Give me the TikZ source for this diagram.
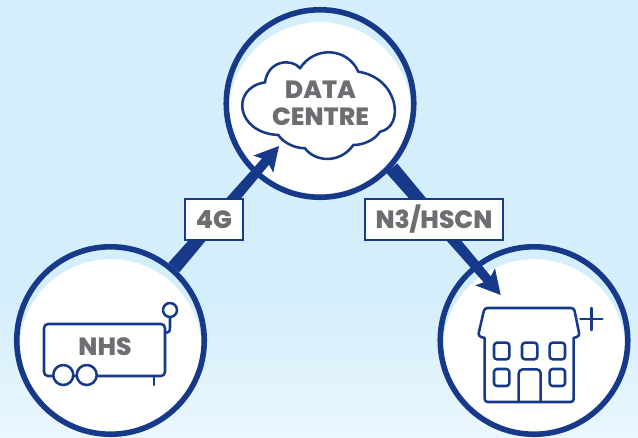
\documentclass[tikz,border=0pt]{standalone}
\usepackage{fontspec}
\setmainfont{Poppins}[BoldFont={Poppins ExtraBold}]
\usetikzlibrary{calc}
\definecolor{navy}{HTML}{16398A}
\definecolor{sky}{HTML}{D4EEFB}
\definecolor{skylow}{HTML}{EAF7FE}
\definecolor{txt}{HTML}{6D6E71}
\tikzset{
  ring/.style={circle,draw=navy,line width=4.2pt,fill=sky,minimum size=140.6pt,inner sep=0pt,
    path picture={\fill[white] ([yshift=-7.5pt]path picture bounding box.center) circle (68.5pt);}},
  tag/.style={draw=navy,line width=1.7pt,fill=white,inner sep=0pt,text=txt,font=\fontsize{18.7}{20}\selectfont\bfseries},
  word/.style={text=txt,inner sep=0pt,align=center,font=\fontsize{18.7}{20.3}\selectfont\bfseries},
  icon/.style={draw=navy,line width=1.9pt,line join=round,line cap=round},
}
\newcommand{\taperarrow}[2]{%
  \coordinate (hb) at ($(#2)!18pt!(#1)$);
  \coordinate (hn) at ($(#2)!15.5pt!(#1)$);
  \fill[navy] ($(#1)!5.4pt!90:(#2)$) -- ($(hn)!3.5pt!-90:(#1)$) -- ($(hb)!9.8pt!-90:(#1)$) -- (#2)
    -- ($(hb)!9.8pt!90:(#1)$) -- ($(hn)!3.5pt!90:(#1)$) -- ($(#1)!5.4pt!-90:(#2)$) -- cycle;
}
\begin{document}
\begin{tikzpicture}[x=0.75pt,y=-0.75pt]
\useasboundingbox (0,0) rectangle (638,437);
\fill[sky] (0,0) rectangle (638,437);
\shade[top color=sky,bottom color=skylow] (0,300) rectangle (638,437);

\node[ring] (dc) at (320,103.5) {};
\node[ring] (nhs) at (110.5,340.5) {};
\node[ring] (hosp) at (534,340.5) {};

\coordinate (tipa) at (279,146);
\coordinate (tipb) at (500.7,295);
\taperarrow{nhs.49}{tipa}
\taperarrow{dc.-42}{tipb}

\node[tag,minimum width=43.5pt,minimum height=30.5pt] (lab4g) at (214,219.5) {4G};
\node[tag,minimum width=103.5pt,minimum height=30.5pt] (labn3) at (434,219.5) {N3/HSCN};

% cloud
\draw[icon] (278.3,135) .. controls (236,133) and (230,88) .. (265,82.3)
  .. controls (268,60) and (292,58) .. (300,68.3)
  .. controls (315,45) and (348,48) .. (358.3,71.7)
  .. controls (399,78) and (405,127) .. (380,131.7)
  .. controls (374,141) and (362,145) .. (353.3,145)
  .. controls (340,164) and (315,162) .. (305,148.3)
  .. controls (293,148) and (283,142) .. cycle;
\node[word] (dctext) at (320.5,103.5) {DATA\\CENTRE};

% NHS vehicle
\draw[icon,rounded corners=3pt] (44,324) rectangle (165,376);
\draw[icon] (154,376) -- (154,385);
\draw[icon,fill=white] (63.3,375) circle (10);
\draw[icon,fill=white] (86.7,375) circle (10);
\draw[icon,fill=white] (170,310) circle (7);
\draw[icon] (170,317) -- (170,328) .. controls (170,332) and (168,333) .. (165,333);
\node[word] (nhstext) at (105,347) {NHS};

% building
\draw[icon,rounded corners=2.2pt] (484.7,338) -- (478,336) -- (484.5,308) -- (574,308) -- (579.7,336) -- (573.7,338);
\draw[icon,rounded corners=2.2pt] (484.7,338) -- (484.7,402) -- (573.7,402) -- (573.7,338);
\foreach \wx in {494,522,549.7}
  \draw[icon,rounded corners=2.2pt] (\wx,342.7) rectangle ++(15.3,16.6);
\foreach \wx in {494,549.7}
  \draw[icon,rounded corners=2.2pt] (\wx,369) rectangle ++(15.3,17);
\draw[icon,rounded corners=3pt] (518.7,402) -- (518.7,369.3) -- (540.7,369.3) -- (540.7,402);
\draw[icon] (580.3,319) -- (602.3,319);
\draw[icon] (591.3,308) -- (591.3,330);
\end{tikzpicture}
\end{document}
